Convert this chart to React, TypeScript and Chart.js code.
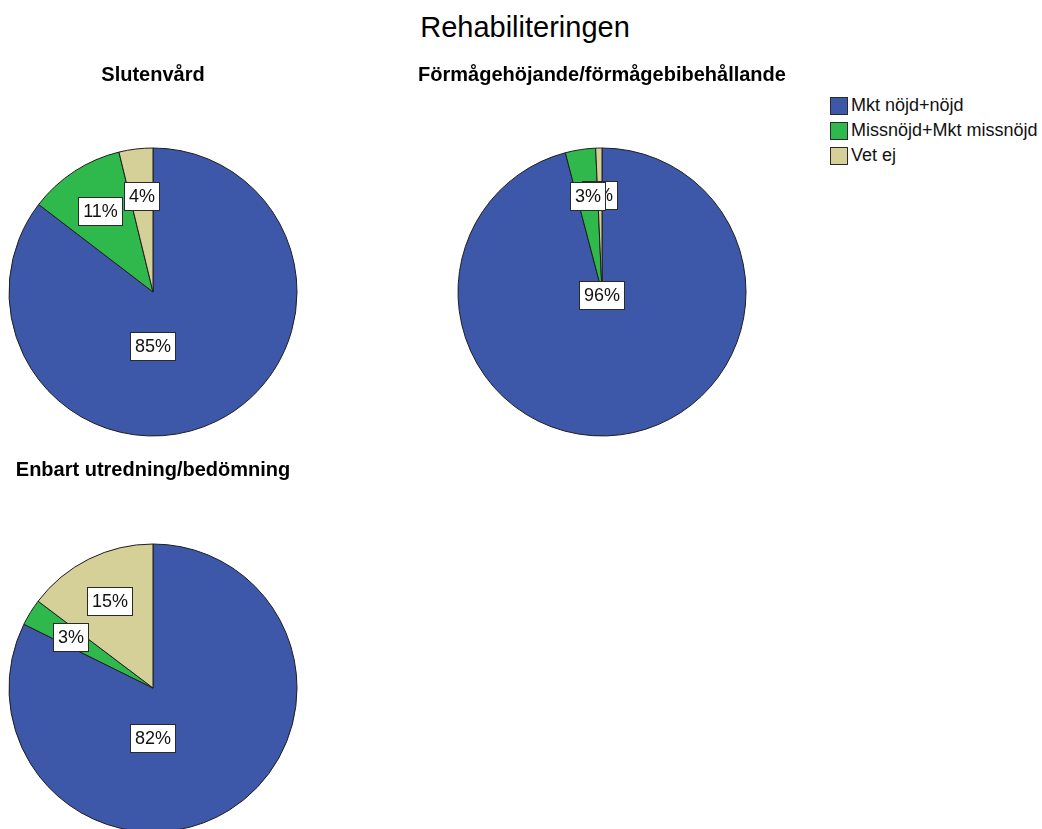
import React, { useEffect, useRef } from "react";
import { Chart, registerables } from "chart.js";

Chart.register(...registerables);

const mainTitle = "Rehabiliteringen";
const categories = ["Mkt nöjd+nöjd", "Missnöjd+Mkt missnöjd", "Vet ej"];
const sliceColors = ["#3D57A9", "#2FB84C", "#D5CF98"];
const pieTitles = ["Slutenvård", "Förmågehöjande/förmågebibehållande", "Enbart utredning/bedömning"];
const slutenvardValues = [85.4, 10.8, 3.8];
const formagaValues = [95.9, 3.4, 0.7];
const enbartValues = [82.3, 3.0, 14.7];

const FONT = "'Liberation Sans', Arial, Helvetica, sans-serif";

const boxLabelPlugin = {
  id: "boxLabels",
  afterDatasetsDraw(chart: any, _args: any, opts: any) {
    const meta = chart.getDatasetMeta(0);
    const data = chart.data.datasets[0].data as number[];
    const total = data.reduce((a, b) => a + b, 0);
    const order: number[] = opts.order || data.map((_: number, i: number) => i);
    const maxIdx = data.indexOf(Math.max(...data));
    const ctx = chart.ctx as CanvasRenderingContext2D;
    ctx.save();
    ctx.font = `18px ${FONT}`;
    ctx.textAlign = "center";
    ctx.textBaseline = "middle";
    for (const i of order) {
      const arc = meta.data[i];
      const { x, y, startAngle, endAngle, outerRadius } = arc.getProps(
        ["x", "y", "startAngle", "endAngle", "outerRadius"],
        true
      );
      let lx: number;
      let ly: number;
      if (i === maxIdx) {
        lx = x;
        ly = y + (opts.mainDy || 0);
      } else {
        const mid = (startAngle + endAngle) / 2;
        lx = x + Math.cos(mid) * outerRadius * 0.67;
        ly = y + Math.sin(mid) * outerRadius * 0.67;
      }
      const text = Math.round((data[i] / total) * 100) + "%";
      const w = Math.round(ctx.measureText(text).width + 10);
      const h = 29;
      const bx = Math.round(lx - w / 2);
      const by = Math.round(ly - h / 2);
      ctx.fillStyle = "#ffffff";
      ctx.fillRect(bx, by, w, h);
      ctx.strokeStyle = "#2a2a2a";
      ctx.lineWidth = 1;
      ctx.strokeRect(bx + 0.5, by + 0.5, w - 1, h - 1);
      ctx.fillStyle = "#111111";
      ctx.fillText(text, bx + w / 2, by + h / 2 + 1);
    }
    ctx.restore();
  },
};

type PieProps = {
  values: number[];
  title: string;
  left: number;
  top: number;
  width: number;
  height: number;
  padTop: number;
  padBottom: number;
  mainDy: number;
  order?: number[];
};

function PieChart({ values, title, left, top, width, height, padTop, padBottom, mainDy, order }: PieProps) {
  const ref = useRef<HTMLCanvasElement | null>(null);
  useEffect(() => {
    if (!ref.current) return;
    const chart = new Chart(ref.current, {
      type: "pie",
      data: {
        labels: categories,
        datasets: [
          {
            data: values,
            backgroundColor: sliceColors,
            borderColor: "#1e1e1e",
            borderWidth: 1,
          },
        ],
      },
      options: {
        responsive: false,
        animation: false,
        radius: 144,
        layout: { padding: 0 },
        plugins: {
          legend: { display: false },
          tooltip: { enabled: false },
          title: {
            display: true,
            text: title,
            color: "#000000",
            font: { family: FONT, size: 20, weight: "bold", lineHeight: 1.2 },
            padding: { top: padTop, bottom: padBottom },
          },
          boxLabels: { mainDy, order },
        } as any,
      },
      plugins: [boxLabelPlugin],
    });
    return () => chart.destroy();
  }, []);
  return (
    <canvas
      ref={ref}
      width={width}
      height={height}
      style={{ position: "absolute", left, top, width, height }}
    />
  );
}

export default function App() {
  return (
    <div
      style={{
        position: "absolute",
        left: 0,
        top: 0,
        width: 1042,
        height: 829,
        overflow: "hidden",
        background: "#ffffff",
        fontFamily: FONT,
      }}
    >
      <div
        style={{
          position: "absolute",
          left: 275,
          top: 10,
          width: 500,
          textAlign: "center",
          fontSize: 29,
          lineHeight: "34px",
          color: "#000",
        }}
      >
        {mainTitle}
      </div>
      <PieChart
        values={slutenvardValues}
        title={pieTitles[0]}
        left={0}
        top={56}
        width={306}
        height={382}
        padTop={7}
        padBottom={59}
        mainDy={54}
      />
      <PieChart
        values={formagaValues}
        title={pieTitles[1]}
        left={402}
        top={56}
        width={400}
        height={382}
        padTop={7}
        padBottom={59}
        mainDy={3}
        order={[0, 2, 1]}
      />
      <PieChart
        values={enbartValues}
        title={pieTitles[2]}
        left={0}
        top={452}
        width={306}
        height={382}
        padTop={6}
        padBottom={60}
        mainDy={50}
      />
      <div style={{ position: "absolute", left: 830, top: 93 }}>
        {categories.map((c, i) => (
          <div
            key={c}
            style={{ display: "flex", alignItems: "center", height: 25, fontSize: 18, color: "#111" }}
          >
            <span
              style={{
                display: "inline-block",
                width: 16,
                height: 16,
                background: sliceColors[i],
                border: "1px solid #2a2a2a",
                marginRight: 3,
              }}
            />
            <span>{c}</span>
          </div>
        ))}
      </div>
    </div>
  );
}
